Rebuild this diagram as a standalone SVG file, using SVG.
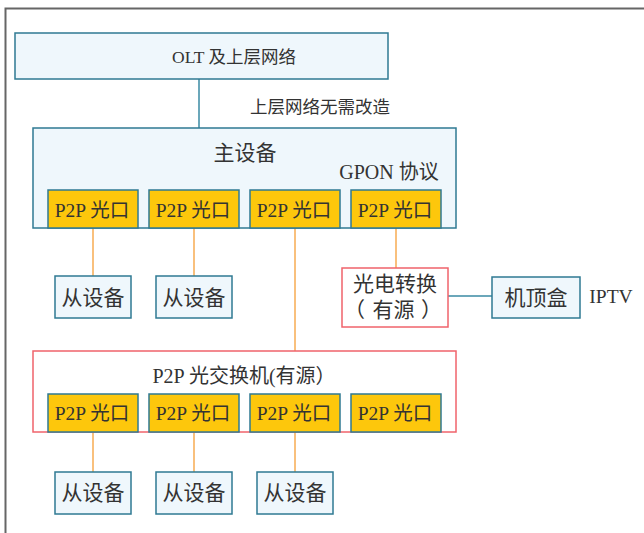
<svg xmlns="http://www.w3.org/2000/svg" width="644" height="533" viewBox="0 0 644 533">
<style>
text{font-family:"Liberation Serif","Noto Sans CJK SC",serif;fill:#333;text-anchor:middle;dominant-baseline:central}
.box{fill:#eff7fc;stroke:#2f7a93;stroke-width:1.5}
.port{fill:#fdc70c;stroke:#2f7a93;stroke-width:1.5}
.red{fill:#fff;stroke:#f0636b;stroke-width:1.5}
.t17{font-size:17.5px}
.t19{font-size:19.5px}
.t20{font-size:20px}
.t21{font-size:21px}
.or{stroke:#f7ab52;stroke-width:1.5;fill:none}
.tl{stroke:#3a8aa3;stroke-width:1.5;fill:none}
</style>
<rect width="644" height="533" fill="#fff"/>
<path d="M5.5,533V8.5H644" fill="none" stroke="#666" stroke-width="2"/>
<g id="connectors">
<line class="tl" x1="199" y1="79" x2="199" y2="128"/>
<line class="or" x1="93" y1="228" x2="93" y2="276"/>
<line class="or" x1="194" y1="228" x2="194" y2="276"/>
<line class="or" x1="295" y1="228" x2="295" y2="351"/>
<line class="or" x1="396" y1="228" x2="396" y2="268"/>
<line class="tl" x1="448" y1="296" x2="492" y2="296"/>
<line class="or" x1="93" y1="432" x2="93" y2="472"/>
<line class="or" x1="194" y1="432" x2="194" y2="472"/>
<line class="or" x1="295" y1="432" x2="295" y2="472"/>
</g>
<g id="olt"><rect class="box" x="15" y="33" width="373" height="46"/><text class="t17" x="234" y="57">OLT 及上层网络</text></g>
<text class="t17" x="320" y="107">上层网络无需改造</text>
<g id="main"><rect class="box" x="33" y="128" width="423" height="100"/>
<text class="t21" x="245" y="153">主设备</text>
<text class="t20" x="389" y="172">GPON 协议</text></g>
<g id="mp1"><rect class="port" x="48" y="190" width="90" height="38"/><text class="t19" x="92" y="210">P2P 光口</text></g>
<g id="mp2"><rect class="port" x="149" y="190" width="90" height="38"/><text class="t19" x="193" y="210">P2P 光口</text></g>
<g id="mp3"><rect class="port" x="250" y="190" width="90" height="38"/><text class="t19" x="294" y="210">P2P 光口</text></g>
<g id="mp4"><rect class="port" x="351" y="190" width="90" height="38"/><text class="t19" x="395" y="210">P2P 光口</text></g>
<g id="s1"><rect class="box" x="55" y="276" width="76" height="42"/><text class="t21" x="93" y="298">从设备</text></g>
<g id="s2"><rect class="box" x="156" y="276" width="76" height="42"/><text class="t21" x="194" y="298">从设备</text></g>
<g id="oe"><rect class="red" x="342" y="268" width="106" height="59"/><text class="t21" x="395" y="284">光电转换</text>
<text class="t21" x="365" y="310" style="text-anchor:end">（</text><text class="t21" x="393.5" y="310">有源</text><text class="t21" x="421" y="310" style="text-anchor:start">）</text></g>
<g id="stb"><rect class="box" x="492" y="277" width="88" height="41"/><text class="t21" x="536" y="298">机顶盒</text></g>
<text class="t19" x="611" y="296">IPTV</text>
<g id="switch"><rect class="red" x="33" y="351" width="423" height="81"/><text class="t20" x="244" y="376">P2P 光交换机(有源）</text></g>
<g id="sp1"><rect class="port" x="48" y="394" width="90" height="38"/><text class="t19" x="92" y="413">P2P 光口</text></g>
<g id="sp2"><rect class="port" x="149" y="394" width="90" height="38"/><text class="t19" x="193" y="413">P2P 光口</text></g>
<g id="sp3"><rect class="port" x="250" y="394" width="90" height="38"/><text class="t19" x="294" y="413">P2P 光口</text></g>
<g id="sp4"><rect class="port" x="351" y="394" width="90" height="38"/><text class="t19" x="395" y="413">P2P 光口</text></g>
<g id="s3"><rect class="box" x="55" y="472" width="76" height="42"/><text class="t21" x="93" y="493">从设备</text></g>
<g id="s4"><rect class="box" x="156" y="472" width="76" height="42"/><text class="t21" x="194" y="493">从设备</text></g>
<g id="s5"><rect class="box" x="257" y="472" width="76" height="42"/><text class="t21" x="295" y="493">从设备</text></g>
</svg>
